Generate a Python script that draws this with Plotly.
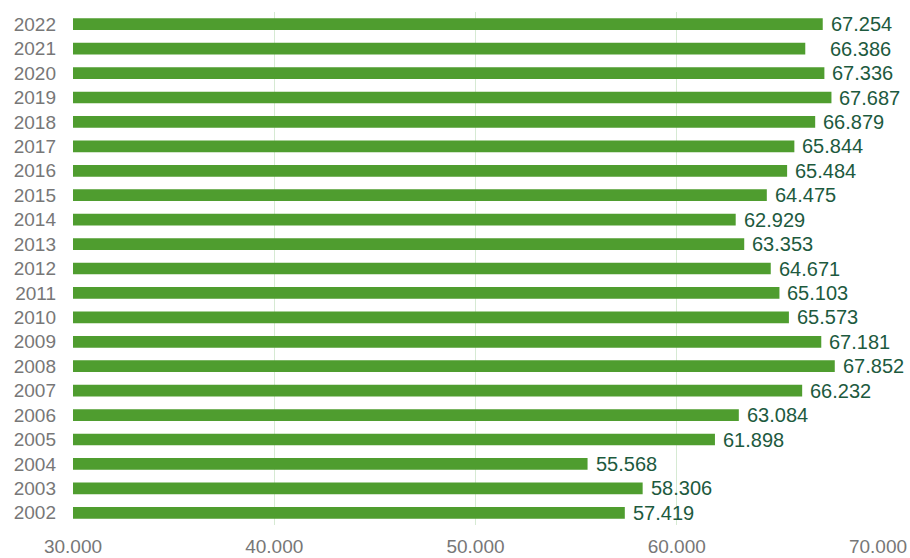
import plotly.graph_objects as go

years = [str(y) for y in range(2002, 2023)]
values = [57419, 58306, 55568, 61898, 63084, 66232, 67852, 67181, 65573, 65103,
          64671, 63353, 62929, 64475, 65484, 65844, 66879, 67687, 67336, 66386, 67254]
tick_vals = [30000, 40000, 50000, 60000, 70000]
tick_text = ["30.000", "40.000", "50.000", "60.000", "70.000"]

def fmt(v):
    return f"{v:,}".replace(",", ".")

fig = go.Figure(go.Bar(
    x=values, y=years, orientation="h",
    marker=dict(color="#4f9d2f", line=dict(width=0)),
    hoverinfo="skip",
))

annotations = []
for i, (y, v) in enumerate(zip(years, values)):
    annotations.append(dict(
        x=v, y=i, xref="x", yref="y", text=fmt(v), showarrow=False,
        xanchor="left", yanchor="middle", xshift=(23 if y == "2021" else 6),
        font=dict(family="Liberation Sans, Arial, sans-serif", size=20, color="#1d5a3e"),
    ))

fig.update_layout(
    width=910, height=558,
    margin=dict(l=73, r=32, t=12, b=33, autoexpand=False),
    paper_bgcolor="white", plot_bgcolor="white",
    bargap=0.52,
    showlegend=False,
    annotations=annotations,
    font=dict(family="Liberation Sans, Arial, sans-serif"),
)
fig.update_xaxes(
    range=[30000, 70000], tickvals=tick_vals, ticktext=tick_text,
    showgrid=True, gridcolor="#d6ead3", gridwidth=1, zeroline=False,
    showline=False, ticks="", ticklabelstandoff=8, automargin=False,
    tickfont=dict(size=19, color="#777777"),
)
fig.update_yaxes(
    type="category", categoryorder="array", categoryarray=years,
    range=[-0.5, len(years) - 0.5],
    showgrid=False, showline=False, ticks="", ticklabelstandoff=16, automargin=False,
    tickfont=dict(size=19, color="#777777"),
)

fig.write_html(
    "out.html",
    config={"displayModeBar": False},
    post_script="document.body.style.margin='0';document.body.style.overflow='hidden';",
)
